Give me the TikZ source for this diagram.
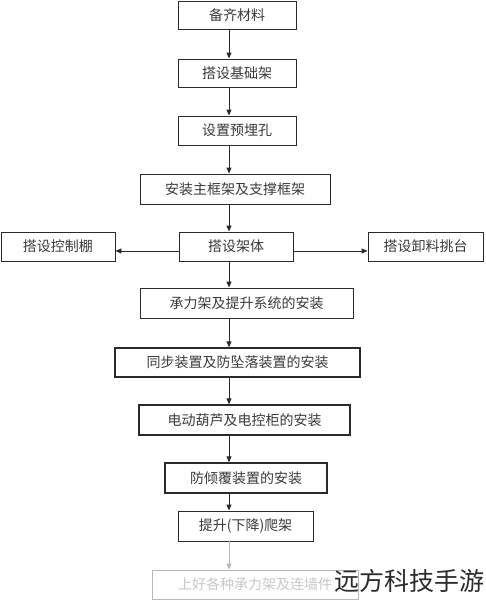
\documentclass[tikz,border=0pt]{standalone}
\usepackage{fontspec}
\newfontfamily\cjk{Noto Sans CJK SC}
\usetikzlibrary{arrows.meta}
\definecolor{ink}{HTML}{2A2A2A}
\definecolor{txt}{HTML}{3A3A3A}
\definecolor{faint}{HTML}{B8B8B8}
\definecolor{fainttxt}{HTML}{C8C8C8}
\tikzset{
  stepbox/.style={draw=ink, line width=0.9pt, inner sep=0pt, text=txt, font=\cjk\fontsize{14}{14}\selectfont},
  boldbox/.style={stepbox, line width=1.25pt},
  fadebox/.style={stepbox, draw=faint, text=fainttxt},
  arr/.style={draw=ink, line width=0.9pt, -{Triangle[length=6pt,width=5pt]}},
  fadearr/.style={arr, draw=faint, -{Triangle[length=6pt,width=5pt,fill=faint]}},
}
\begin{document}
\begin{tikzpicture}[x=1pt,y=-1pt]
\useasboundingbox (0,0) rectangle (485,600);
\fill[white] (0,0) rectangle (485,600);
\coordinate (col) at (229,0);
\coordinate (sy) at (0,251);
\node[stepbox, minimum width=118pt, minimum height=28pt] (t1) at (237,15) {备齐材料};
\node[stepbox, minimum width=118pt, minimum height=28pt] (t2) at (237,73) {搭设基础架};
\node[stepbox, minimum width=118pt, minimum height=29pt] (t3) at (237,130.5) {设置预埋孔};
\node[stepbox, minimum width=190pt, minimum height=30pt] (t4) at (235,189) {安装主框架及支撑框架};
\node[stepbox, minimum width=114pt, minimum height=29pt] (t5) at (236,246.5) {搭设架体};
\node[stepbox, minimum width=114pt, minimum height=29pt] (tl) at (58,246.5) {搭设控制棚};
\node[stepbox, minimum width=115pt, minimum height=29pt] (tr) at (425.5,246.5) {搭设卸料挑台};
\node[stepbox, minimum width=213pt, minimum height=30pt] (t6) at (246.5,303) {承力架及提升系统的安装};
\node[boldbox, minimum width=245pt, minimum height=29pt] (t7) at (237.5,362.5) {同步装置及防坠落装置的安装};
\node[boldbox, minimum width=211pt, minimum height=30pt] (t8) at (244.5,420) {电动葫芦及电控柜的安装};
\node[boldbox, minimum width=162pt, minimum height=30pt] (t9) at (246,478) {防倾覆装置的安装};
\node[stepbox, minimum width=135pt, minimum height=30pt] (t10) at (245.5,526) {提升(下降)爬架};
\node[fadebox, minimum width=206pt, minimum height=29pt] (t11) at (255,584.5) {上好各种承力架及连墙件};
\foreach \a/\b in {t1/t2,t2/t3,t3/t4,t4/t5,t5/t6,t6/t7,t7/t8,t8/t9,t9/t10}
  \draw[arr] (\a.south -| col) -- (\b.north -| col);
\draw[fadearr] (t10.south -| col) -- (t11.north -| col);
\draw[arr] (t5.west |- sy) -- (tl.east |- sy);
\draw[arr] (t5.east |- sy) -- (tr.west |- sy);
\node[inner sep=0pt, anchor=east, text=ink, font=\cjk\fontsize{25}{25}\selectfont] (wm) at (485,581) {远方科技手游};
\end{tikzpicture}
\end{document}
